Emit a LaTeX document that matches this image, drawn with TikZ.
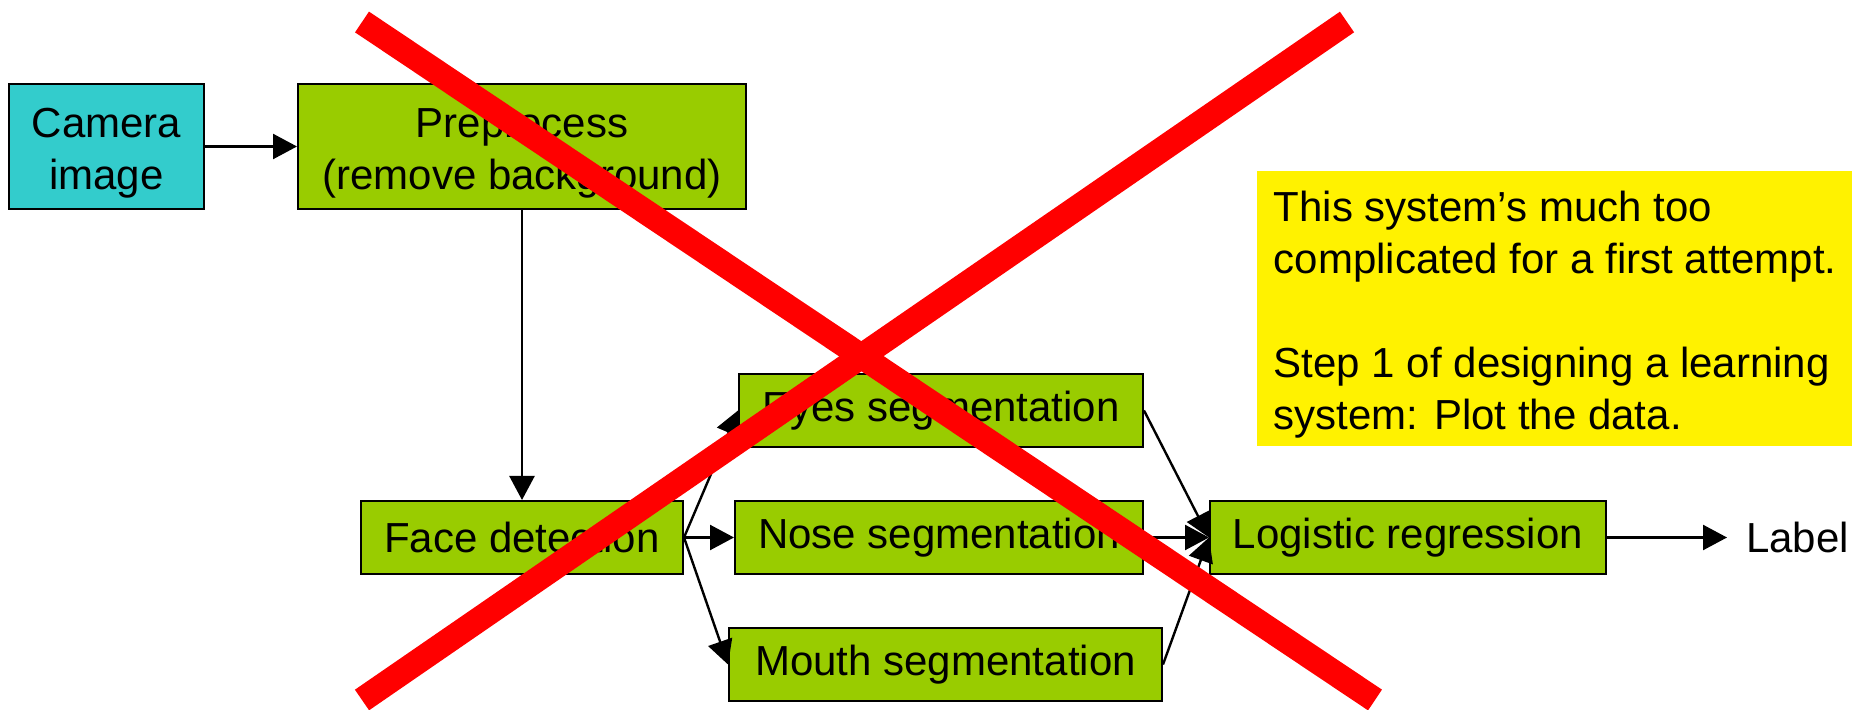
\documentclass[tikz,border=0pt]{standalone}
\usepackage{fontspec}
\setmainfont{Liberation Sans}
\usetikzlibrary{arrows.meta}
\definecolor{pgreen}{RGB}{153,204,0}
\definecolor{pcyan}{RGB}{51,204,204}
\tikzstyle{blk} = [rectangle, draw, line width=1pt, fill=pgreen, align=center,
    minimum height=36.5pt, font=\fontsize{21}{26}\selectfont]
\tikzstyle{note} = [rectangle, fill=yellow, align=left, minimum width=298pt,
    minimum height=137.5pt, font=\fontsize{21}{26}\selectfont]
\tikzstyle{cross} = [red, line width=12.5pt]
\newcommand{\headroom}{\rule{0pt}{21pt}}

\begin{document}
\begin{tikzpicture}[x=0.5pt, y=-0.5pt, node distance=63.5pt,
    >={Triangle[length=12pt,width=12.5pt]}, line width=1.2pt]
  \useasboundingbox (0,0) rectangle (1852,710);

  \node[blk,fill=pcyan,minimum width=97.5pt,minimum height=62.5pt] (cam) at (106.5,146.5) {\headroom Camera\\image};
  \node[blk,minimum width=224pt,minimum height=62.5pt] (pre) at (522,146.5) {\headroom Preprocess\\(remove background)};
  \node[blk,minimum width=161pt] (face) at (522,537.5) {Face detection};
  \node[blk,minimum width=204pt] (nose) at (939,537.5) {Nose segmentation};
  \node[blk,minimum width=202pt] (eyes) [above of=nose,xshift=1pt] {Eyes segmentation};
  \node[blk,minimum width=216.5pt] (mouth) [below of=nose,xshift=3.25pt] {Mouth segmentation};
  \node[blk,minimum width=198pt] (logi) at (1408,537.5) {Logistic regression};
  \node[font=\fontsize{21}{26}\selectfont,anchor=west,inner xsep=9pt] (lbl) at (1727,537.5) {Label};
  \node[note,anchor=north west] (msg) at (1256,170) {\headroom This system’s much too\\complicated for a first attempt.\\[26pt]Step 1 of designing a learning\\system: Plot the data.};

  \path[->] (cam) edge (pre);
  \path[->] (pre) edge (face);
  \path[->] (face.east) edge (eyes.west);
  \path[->] (face.east) edge (nose.west);
  \path[->] (face.east) edge (mouth.west);
  \path[->] (eyes.east) edge (logi.west);
  \path[->] (nose.east) edge (logi.west);
  \path[->] (mouth.east) edge (logi.west);
  \path[->] (logi) edge (lbl);

  % the big red cross over it all
  \draw[cross] (362,22) -- (1375,700);
  \draw[cross] (1347,22) -- (362,700);
\end{tikzpicture}
\end{document}
